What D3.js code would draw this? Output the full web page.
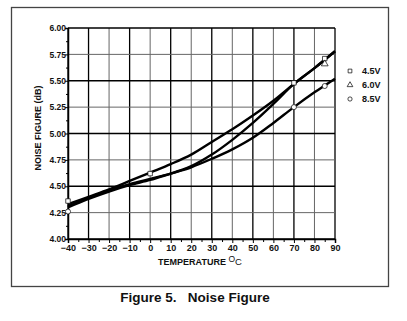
<!DOCTYPE html>
<html>
<head>
<meta charset="utf-8">
<title>Noise Figure</title>
<script src="https://cdn.jsdelivr.net/npm/d3@7"></script>
<style>
  body { margin: 0; background: #fff; }
  text { font-family: "Liberation Sans", Arial, sans-serif; font-weight: bold; fill: #111; }
</style>
</head>
<body>
<div id="chart"></div>
<script>
  // data
  var temps = [-40, -30, -20, -10, 0, 10, 20, 30, 40, 50, 60, 70, 80, 90];
  var curveA = [4.33, 4.40, 4.47, 4.55, 4.63, 4.71, 4.80, 4.92, 5.04, 5.17, 5.31, 5.47, 5.62, 5.78];
  var curveB = [4.31, 4.39, 4.46, 4.52, 4.57, 4.62, 4.69, 4.80, 4.94, 5.10, 5.28, 5.47, 5.62, 5.78];
  var curveC = [4.30, 4.38, 4.45, 4.51, 4.56, 4.62, 4.68, 4.76, 4.85, 4.96, 5.10, 5.25, 5.39, 5.52];

  var series = ['4.5V', '6.0V', '8.5V'];
  var markT = [[-40, 0, 70, 85], [85], [-40, 70, 85]];
  var markV = [[4.36, 4.62, 5.48, 5.71], [5.66], [4.26, 5.25, 5.45]];

  var xTicks = [-40, -30, -20, -10, 0, 10, 20, 30, 40, 50, 60, 70, 80, 90];
  var yTicks = [4.00, 4.25, 4.50, 4.75, 5.00, 5.25, 5.50, 5.75, 6.00];

  var w = 407, h = 321;
  var m = {left: 68, right: 335, top: 28, bottom: 239};

  var svg = d3.select('#chart').append('svg')
      .attr('width', w)
      .attr('height', h);

  // outer frame
  svg.append('rect')
      .attr('x', 11.5).attr('y', 7.5)
      .attr('width', 377).attr('height', 279)
      .attr('fill', 'none')
      .attr('stroke', '#444')
      .attr('stroke-width', 1.3);

  var x = d3.scaleLinear().domain([-40, 90]).range([m.left, m.right]);
  var y = d3.scaleLinear().domain([4, 6]).range([m.bottom, m.top]);

  // grid, odd tens / half units drawn heavier
  svg.append('g').selectAll('line')
      .data(xTicks)
      .enter().append('line')
      .attr('x1', function(d){ return x(d); })
      .attr('x2', function(d){ return x(d); })
      .attr('y1', m.top).attr('y2', m.bottom)
      .attr('stroke', function(d){ return Math.abs(d / 10) % 2 == 1 || d == -40 ? '#000' : '#666'; })
      .attr('stroke-width', function(d){ return Math.abs(d / 10) % 2 == 1 || d == -40 ? 1.3 : 1; });

  svg.append('g').selectAll('line')
      .data(yTicks)
      .enter().append('line')
      .attr('y1', function(d){ return y(d); })
      .attr('y2', function(d){ return y(d); })
      .attr('x1', m.left).attr('x2', m.right)
      .attr('stroke', function(d){ return (d * 4) % 2 == 0 ? '#000' : '#666'; })
      .attr('stroke-width', function(d){ return (d * 4) % 2 == 0 ? 1.3 : 1; });

  // axes with minor ticks
  svg.append('g')
      .attr('transform', 'translate(0,' + m.bottom + ')')
      .call(d3.axisBottom(x).tickValues(d3.range(-35, 90, 10)).tickSize(3).tickFormat(''))
      .call(function(g){ g.select('.domain').remove(); });

  svg.append('g')
      .attr('transform', 'translate(' + m.left + ',0)')
      .call(d3.axisLeft(y).tickValues(d3.range(4.125, 6, 0.25)).tickSize(2).tickFormat(''))
      .call(function(g){ g.select('.domain').remove(); });

  svg.append('g')
      .attr('transform', 'translate(0,' + m.bottom + ')')
      .call(d3.axisBottom(x).tickValues(xTicks).tickSize(4).tickPadding(2)
        .tickFormat(function(d){ return d < 0 ? '\u2212' + Math.abs(d) : d; }))
      .call(function(g){
        g.select('.domain').attr('stroke-width', 1.5);
        g.selectAll('text').attr('font-size', 9).style('font-weight', 'bold');
      });

  svg.append('g')
      .attr('transform', 'translate(' + m.left + ',0)')
      .call(d3.axisLeft(y).tickValues(yTicks).tickSize(3).tickPadding(-1).tickFormat(d3.format('.2f')))
      .call(function(g){
        g.select('.domain').attr('stroke-width', 1.5);
        g.selectAll('text').attr('font-size', 8.5).style('font-weight', 'bold');
      });

  // curves
  var line = d3.line()
      .x(function(d, i){ return x(temps[i]); })
      .y(function(d){ return y(d); })
      .curve(d3.curveCatmullRom);

  svg.append('g').selectAll('path')
      .data([curveA, curveB, curveC])
      .enter().append('path')
      .attr('d', line)
      .attr('fill', 'none')
      .attr('stroke', '#000')
      .attr('stroke-width', 2.4);

  // markers
  var symbols = [d3.symbolSquare, d3.symbolTriangle, d3.symbolCircle];
  var sym = function(i, size){ return d3.symbol().type(symbols[i]).size(size)(); };

  series.forEach(function(s, i){
    svg.append('g').selectAll('path')
        .data(markT[i])
        .enter().append('path')
        .attr('transform', function(d, j){ return 'translate(' + x(d) + ',' + y(markV[i][j]) + ')'; })
        .attr('d', sym(i, 20))
        .attr('fill', '#fff')
        .attr('stroke', '#000')
        .attr('stroke-width', 0.7);
  });

  // legend
  var legend = svg.append('g').selectAll('g')
      .data(series)
      .enter().append('g')
      .attr('transform', function(d, i){ return 'translate(350,' + (71 + i * 14) + ')'; });
  legend.append('path')
      .attr('d', function(d, i){ return sym(i, 14); })
      .attr('fill', '#fff')
      .attr('stroke', '#000')
      .attr('stroke-width', 0.7);
  legend.append('text')
      .attr('x', 12).attr('dy', '0.35em')
      .attr('font-size', 9)
      .text(function(d){ return d; });

  // titles
  var xt = svg.append('text')
      .attr('x', 200).attr('y', 265)
      .attr('text-anchor', 'middle')
      .attr('font-size', 9);
  xt.append('tspan').text('TEMPERATURE ');
  xt.append('tspan').attr('dy', -3).attr('font-size', 8.5).style('font-weight', 'normal').text('O');
  xt.append('tspan').attr('dy', 3).style('font-weight', 'normal').attr('font-size', 9.5).text('C');

  svg.append('text')
      .attr('transform', 'translate(41,128) rotate(-90)')
      .attr('text-anchor', 'middle')
      .attr('font-size', 9)
      .text('NOISE FIGURE (dB)');

  svg.append('text')
      .attr('x', 195).attr('y', 302)
      .attr('text-anchor', 'middle')
      .attr('font-size', 13.5)
      .attr('xml:space', 'preserve')
      .text('Figure 5.   Noise Figure');
</script>
</body>
</html>
